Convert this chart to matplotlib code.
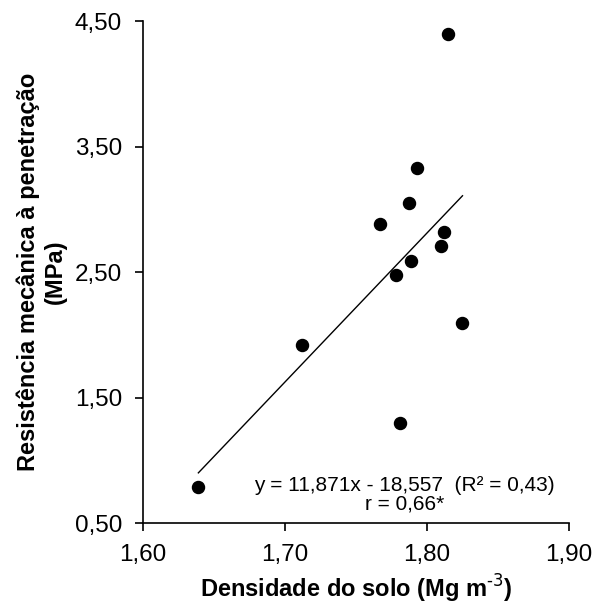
import numpy as np
import matplotlib
matplotlib.use("Agg")
import matplotlib.pyplot as plt

plt.rcParams['font.family'] = ['Liberation Sans', 'DejaVu Sans']

# densidade do solo (Mg m-3) e resistencia a penetracao (MPa)
dens = [1.639, 1.712, 1.767, 1.787, 1.793, 1.815, 1.812, 1.810, 1.789, 1.778, 1.781, 1.825]
rp = [0.79, 1.92, 2.88, 3.05, 3.33, 4.40, 2.82, 2.71, 2.59, 2.48, 1.30, 2.09]

a, b = 11.871, -18.557
xticks = [1.60, 1.70, 1.80, 1.90]
yticks = [0.50, 1.50, 2.50, 3.50, 4.50]

fig = plt.figure(figsize=(5.95, 6.04), dpi=100)
ax = fig.add_axes([0.2403, 0.1341, 0.7160, 0.8311])

xl = np.array([min(dens), max(dens)])
ax.plot(xl, a*xl + b, color='black', lw=1.0)
ax.scatter(dens, rp, s=75, color='black', zorder=3)

ax.set_xlim(1.60, 1.90)
ax.set_ylim(0.50, 4.50)
ax.set_xticks(xticks)
ax.set_yticks(yticks)
ax.set_xticklabels([f"{v:.2f}".replace('.', ',') for v in xticks])
ax.set_yticklabels([f"{v:.2f}".replace('.', ',') for v in yticks])
ax.tick_params(direction='out', length=6, width=1.2, labelsize=17.5, pad=9)
for s in ['top', 'right']:
    ax.spines[s].set_visible(False)
for s in ['left', 'bottom']:
    ax.spines[s].set_linewidth(1.2)

ax.set_xlabel("Densidade do solo (Mg m$^{\\text{-3}}$)", fontsize=17, fontweight='bold', labelpad=5)
ax.set_ylabel("Resistência mecânica à penetração\n(MPa)", fontsize=17, fontweight='bold', labelpad=6)

ax.text(1.784, 0.80, "y = 11,871x - 18,557  (R² = 0,43)", ha='center', va='center', fontsize=15)
ax.text(1.784, 0.655, "r = 0,66*", ha='center', va='center', fontsize=15)

fig.savefig("out.png", dpi=100)
